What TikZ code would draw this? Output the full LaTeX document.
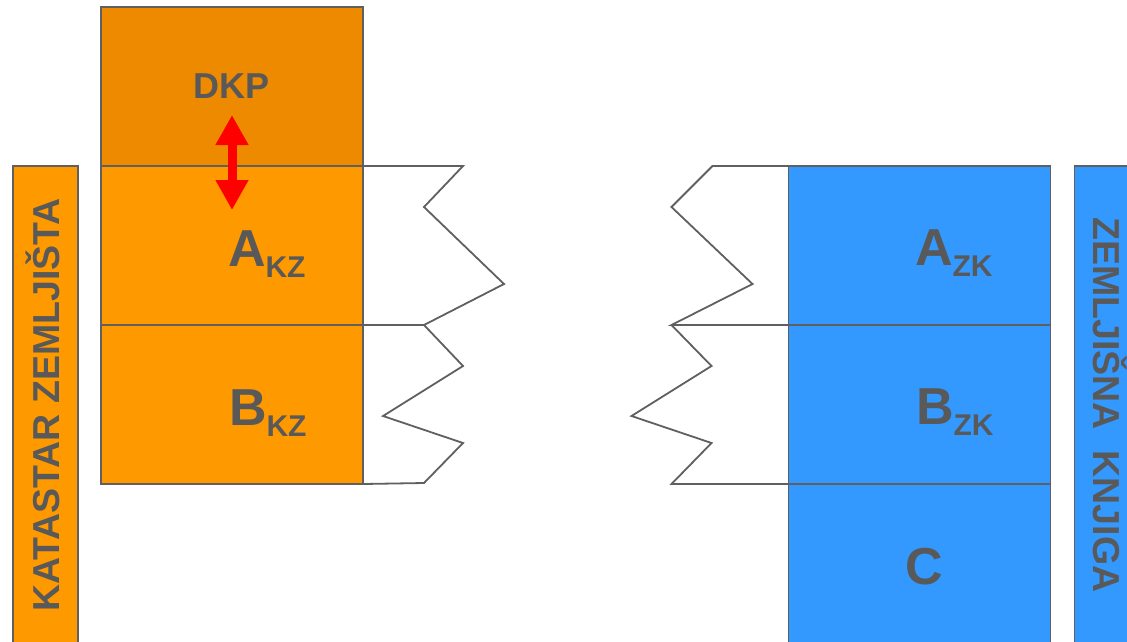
\documentclass[tikz,border=0pt]{standalone}
\usepackage{fontspec}
\setmainfont{Liberation Sans}
\usepackage{tikz}
\usetikzlibrary{positioning}
\usetikzlibrary{calc}
\usetikzlibrary{arrows.meta}
\definecolor{kzdark}{RGB}{238,138,0}
\definecolor{kzfill}{RGB}{255,153,0}
\definecolor{zkfill}{RGB}{51,153,255}
\definecolor{edgegrey}{RGB}{96,96,96}
\definecolor{textgrey}{RGB}{89,89,89}
\newcommand{\lowsub}[1]{\raisebox{-11pt}{\fontsize{30}{30}\selectfont #1}}
\tikzset{
	x=1pt, y=-1pt,
	every node/.style={outer sep=0pt, text=textgrey, font=\bfseries},
	block/.style={draw=edgegrey, line width=1.8pt, minimum width=262pt, minimum height=159pt, inner sep=0pt},
	sidebar/.style={draw=edgegrey, line width=1.8pt, minimum width=478pt, minimum height=65pt, inner sep=0pt,
		text height=27pt, text depth=0pt, font=\bfseries\fontsize{37.5}{37.5}\selectfont},
	tag/.style={anchor=base west, inner sep=0pt, font=\bfseries\fontsize{52}{52}\selectfont},
	zig/.style={draw=edgegrey, line width=1.8pt, line join=miter}
}

\begin{document}
\begin{tikzpicture}
	\clip (0,0) rectangle (1127,641);
	\fill[white] (0,0) rectangle (1127,641);
	
	% left stack
	\node[block, fill=kzdark, font=\bfseries\fontsize{36}{36}\selectfont] (dkp) at (232,86.5) {DKP};
	\node[block, fill=kzfill, below=0pt of dkp] (akz) {};
	\node[block, fill=kzfill, below=0pt of akz] (bkz) {};
	\node[sidebar, fill=kzfill, rotate=90] (kataster) at (45.5,405) {KATASTAR ZEMLJIŠTA};
	
	% right stack
	\node[block, fill=zkfill] (azk) at (919.5,245.5) {};
	\node[block, fill=zkfill, below=0pt of azk] (bzk) {};
	\node[block, fill=zkfill, below=0pt of bzk] (czk) {};
	\node[sidebar, fill=zkfill, rotate=-90] (knjiga) at (1107,405) {ZEMLJIŠNA\ \ KNJIGA};
	
	% labels
	\node[tag] (akztag) at (228,266) {A\lowsub{KZ}};
	\node[tag] (bkztag) at (229,425) {B\lowsub{KZ}};
	\node[tag] (azktag) at (915,265) {A\lowsub{ZK}};
	\node[tag] (bzktag) at (916,424) {B\lowsub{ZK}};
	\node[tag] (ctag) at (905,584) {C};
	
	% broken edges
	\draw[zig] (akz.north east) -- ++(100,0) -- ++(-39,41) -- ++(80,77) -- ++(-80,41) -- (akz.south east);
	\draw[zig] ($(akz.south east)+(61,0)$) -- ++(39,41) -- ++(-80,50) -- ++(80,27) -- ++(-39,40) -- (bkz.south east);
	\draw[zig] (azk.north west) -- ++(-76,0) -- ++(-41,41) -- ++(81,77) -- ++(-81,41) -- (azk.south west);
	\draw[zig] ($(azk.south west)+(-117,0)$) -- ++(40,41) -- ++(-80,50) -- ++(80,27) -- ++(-40,41) -- (bzk.south west);
	
	% link between DKP and A
	\coordinate (uptip) at ($(dkp.south)+(0,-51)$);
	\coordinate (downtip) at ($(akz.north)+(0,44)$);
	\draw[red, line width=9pt, {Triangle[length=30pt,width=31pt]}-{Triangle[length=30pt,width=31pt]}] (uptip) -- (downtip);
\end{tikzpicture}
\end{document}
